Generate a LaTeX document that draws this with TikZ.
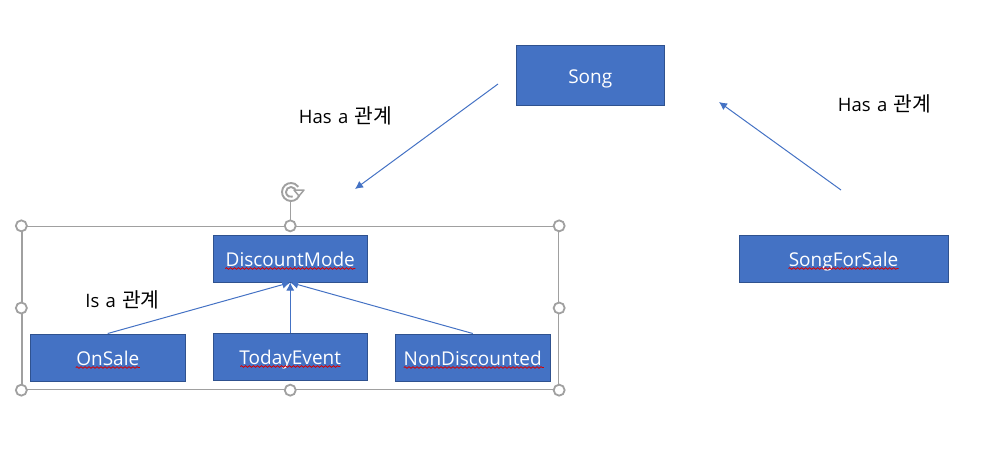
\documentclass[tikz,border=0pt]{standalone}
\usepackage{fontspec}
\setmainfont{Open Sans}
\newfontfamily\kr{Noto Sans CJK KR}[Scale=1.1]
\usetikzlibrary{arrows.meta,decorations.pathmorphing,calc}
\definecolor{boxfill}{HTML}{4472C4}
\definecolor{boxline}{HTML}{2F528F}
\definecolor{handle}{HTML}{A0A0A0}
\tikzset{
  classbox/.style={draw=boxline,fill=boxfill,line width=1pt,text=white,inner sep=0pt,
    text height=17pt,text depth=1pt,
    font=\fontsize{19}{22}\selectfont},
  link/.style={draw=boxfill,line width=1pt,-{Latex[length=8pt,width=8pt]}},
  note/.style={inner sep=0pt,text=black,text height=14pt,text depth=4pt,font=\fontsize{18.5}{22}\selectfont},
  selframe/.style={draw=handle,line width=1.3pt,fill=none,inner sep=0pt},
  grip/.style={circle,draw=handle,line width=1.8pt,fill=white,minimum size=11pt,inner sep=0pt},
  squig/.style={draw=red!85!black,line width=.8pt,decorate,decoration={snake,amplitude=.8pt,segment length=4pt}}
}
\newcommand{\wsp}{\hspace{0.34em}}
\begin{document}
\begin{tikzpicture}[x=1pt,y=-1pt]
\useasboundingbox (0,0) rectangle (1006,472);
% selection frame
\node[selframe,minimum width=536.5pt,minimum height=163pt] (sel) at (290.25,308) {};
\draw[handle,line width=1.3pt] (sel.north) -- ++(0,-24) coordinate (rottop);
% rotate glyph
\draw[handle,line width=1.9pt] (291,192) ++(25:9) arc[start angle=-25,end angle=-325,radius=9pt];
\draw[handle,line width=1.9pt] (291,192) ++(0:5) arc[start angle=0,end angle=290,radius=5pt];
\draw[handle,line width=1.5pt,fill=white,line join=round] (294,190) -- (304,190) -- (299,196) -- cycle;
% boxes
\node[classbox,minimum width=148.5pt,minimum height=60pt] (song) at (590.25,75) {Song};
\node[classbox,minimum width=154.5pt,minimum height=47pt] (disc) at (290.25,258.5) {DiscountMode};
\node[classbox,minimum width=155.5pt,minimum height=47pt] (onsale) at (107.75,357.5) {OnSale};
\node[classbox,minimum width=154.5pt,minimum height=47pt] (today) at (290.25,356.5) {TodayEvent};
\node[classbox,minimum width=155.5pt,minimum height=47pt] (nond) at (472.75,357.5) {NonDiscounted};
\node[classbox,minimum width=209pt,minimum height=47pt] (sfs) at (843.5,258.5) {SongForSale};
% squiggles
\draw[squig] ($(disc.center)+(-65,10)$) -- ($(disc.center)+(65,10)$);
\draw[squig] ($(onsale.center)+(-32,10)$) -- ($(onsale.center)+(32,10)$);
\draw[squig] ($(today.center)+(-50,10)$) -- ($(today.center)+(50,10)$);
\draw[squig] ($(nond.center)+(-69,10)$) -- ($(nond.center)+(71,10)$);
\draw[squig] ($(sfs.center)+(-55,10)$) -- ($(sfs.center)+(55,10)$);
% handles
\foreach \a/\n in {north west/a,north/b,north east/c,west/d,east/e,south west/f,south/g,south east/h}
  \node[grip] (h\n) at (sel.\a) {};
% connectors
\draw[link] (onsale.north) -- (disc.south);
\draw[link] (today.north) -- (disc.south);
\draw[link] (nond.north) -- (disc.south);
\coordinate (hasastart) at (498,84);
\coordinate (hasaend) at (355,189);
\coordinate (sfsstart) at (841,190);
\coordinate (sfsend) at (719,102);
\draw[link] (hasastart) -- (hasaend);
\draw[link] (sfsstart) -- (sfsend);
% notes
\node[note] (n1) at (345.5,118) {Has\wsp a\wsp{\kr 관계}};
\node[note] (n2) at (884.5,106) {Has\wsp a\wsp{\kr 관계}};
\node[note] (n3) at (122.5,302) {Is\wsp a\wsp{\kr 관계}};
\end{tikzpicture}
\end{document}
